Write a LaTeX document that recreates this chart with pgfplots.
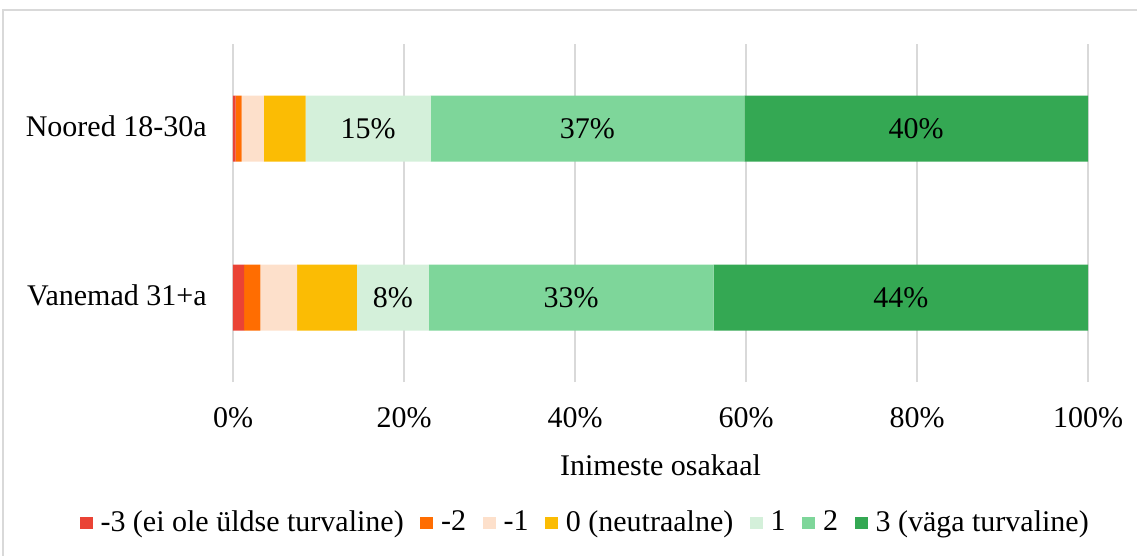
\documentclass[border=0pt]{standalone}
\usepackage{pgfplots}
\usepackage{pgfplotstable}
\pgfplotsset{compat=1.18}
\usepackage{fontspec}
\setmainfont{Liberation Serif}
\definecolor{cm3}{HTML}{EA4335}
\definecolor{cm2}{HTML}{FF6D01}
\definecolor{cm1}{HTML}{FDE0CB}
\definecolor{cz}{HTML}{FBBC04}
\definecolor{cp1}{HTML}{D4F0DA}
\definecolor{cp2}{HTML}{7ED69A}
\definecolor{cp3}{HTML}{34A853}
\definecolor{gridc}{HTML}{D9D9D9}
\pgfplotstableread{
y  m3  m2  m1  z   p1   p2   p3
0  1.3 1.9 4.3 7.0 8.4  33.3 43.8
1  0.3 0.7 2.6 4.9 14.6 36.7 40.2
}\data
\begin{document}
\fontsize{15pt}{18pt}\selectfont
\begin{tikzpicture}
\useasboundingbox (0,0) rectangle (568.5pt,-278pt);
\draw[gridc, line width=0.6pt] (1.5pt,-400pt) -- (1.5pt,-5pt) -- (700pt,-5pt);
\begin{axis}[
  /pgf/number format/assume math mode=true,
  at={(116.5pt,-191pt)}, anchor=south west,
  scale only axis, width=427.5pt, height=169pt,
  xbar stacked, bar width=33pt,
  xmin=0, xmax=100, ymin=-0.5, ymax=1.5,
  xtick={0,20,40,60,80,100},
  xticklabel={\pgfmathprintnumber{\tick}\%},
  ytick={0,1}, yticklabels={Vanemad 31+a, Noored 18-30a},
  xmajorgrids, major grid style={gridc, line width=0.75pt},
  axis line style={draw=none}, major tick length=0pt,
  tick label style={font=\fontsize{15pt}{18pt}\selectfont},
  xticklabel style={anchor=base, inner sep=0pt, yshift=-22.5pt},
  yticklabel style={anchor=base east, inner sep=0pt, xshift=-13pt, yshift=-4pt},
  xlabel={Inimeste osakaal},
  xlabel style={at={(axis description cs:0.5,-0.278)}, anchor=base, inner sep=0pt, font=\fontsize{15pt}{18pt}\selectfont},
  legend columns=7,
  legend style={at={(0.4155,-0.417)}, anchor=center, draw=none, fill=none,
    font=\fontsize{15pt}{18pt}\selectfont, inner sep=0pt,
    /tikz/every even column/.append style={column sep=4.3pt},
    nodes={inner xsep=4pt, inner ysep=0pt}},
  legend image code/.code={\fill[#1, draw=none] (0pt,-3.2pt) rectangle (6.4pt,3.2pt);},
  every axis plot/.append style={draw=none},
  every node near coord/.append style={font=\fontsize{15pt}{18pt}\selectfont, black, anchor=center},
]
\addplot[fill=cm3] table[x=m3,y=y]{\data};
\addlegendentry{-3 (ei ole üldse turvaline)}
\addplot[fill=cm2] table[x=m2,y=y]{\data};
\addlegendentry{-2}
\addplot[fill=cm1] table[x=m1,y=y]{\data};
\addlegendentry{-1}
\addplot[fill=cz] table[x=z,y=y]{\data};
\addlegendentry{0 (neutraalne)}
\addplot[fill=cp1, visualization depends on={\thisrow{p1} \as \segval},
  nodes near coords={\pgfmathprintnumber[fixed,precision=0]{\segval}\%}] table[x=p1,y=y]{\data};
\addlegendentry{1}
\addplot[fill=cp2, visualization depends on={\thisrow{p2} \as \segval},
  nodes near coords={\pgfmathprintnumber[fixed,precision=0]{\segval}\%}] table[x=p2,y=y]{\data};
\addlegendentry{2}
\addplot[fill=cp3, visualization depends on={\thisrow{p3} \as \segval},
  nodes near coords={\pgfmathprintnumber[fixed,precision=0]{\segval}\%}] table[x=p3,y=y]{\data};
\addlegendentry{3 (väga turvaline)}
\end{axis}
\end{tikzpicture}
\end{document}
